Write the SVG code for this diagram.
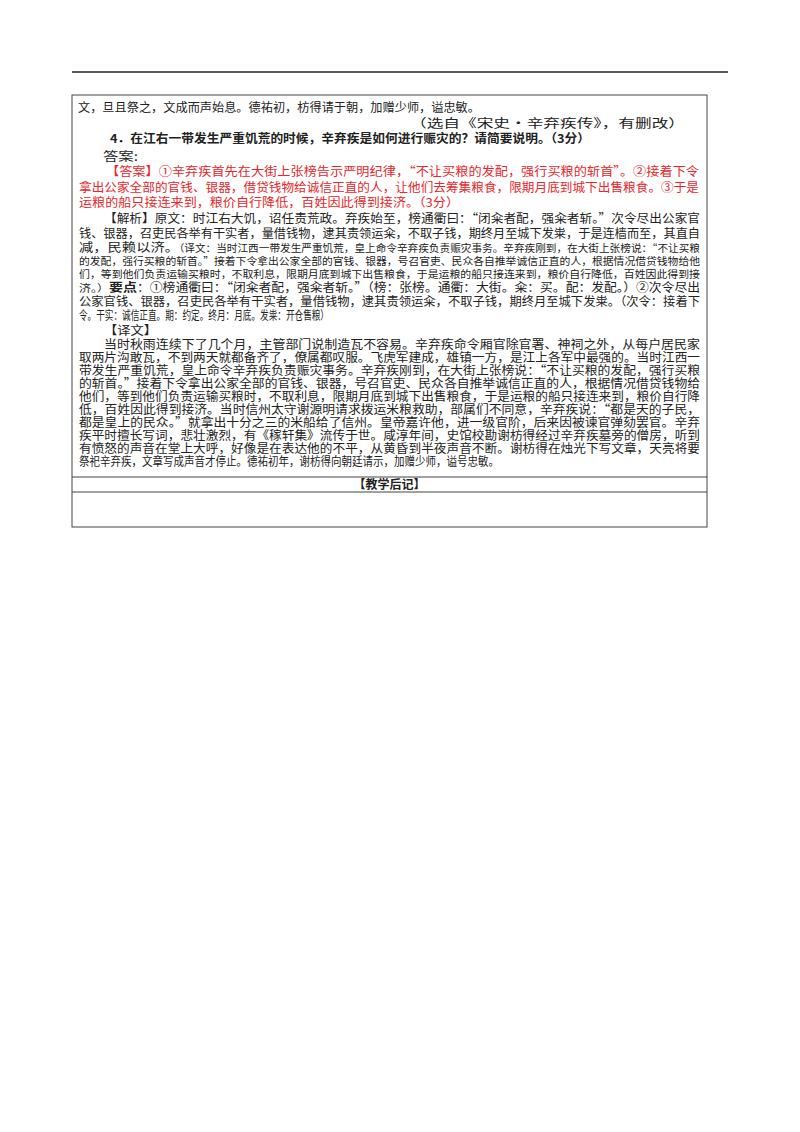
<svg xmlns="http://www.w3.org/2000/svg" width="800" height="1132" viewBox="0 0 800 1132">
<style>
text{font-family:"Noto Sans CJK SC",sans-serif;font-size:12px;fill:#222}
.r{fill:#e8262b}
.s{font-size:10px}
.b{font-weight:bold}
</style>
<rect width="800" height="1132" fill="#fff"/>
<line x1="72" y1="72" x2="728" y2="72" stroke="#222" stroke-width="1.5"/>
<g id="box" fill="none" stroke="#444">
<rect x="72" y="95" width="635" height="432"/>
<line x1="72" y1="477" x2="707" y2="477"/>
<line x1="72" y1="492" x2="707" y2="492"/>
</g>
<g id="text">
<text x="78" y="112" textLength="402" lengthAdjust="spacingAndGlyphs">文，旦且祭之，文成而声始息。德祐初，枋得请于朝，加赠少师，谥忠敏。</text>
<text x="410" y="128" textLength="275" lengthAdjust="spacingAndGlyphs">（选自《宋史·辛弃疾传》，有删改）</text>
<text x="110" y="143" class="b" textLength="480" lengthAdjust="spacingAndGlyphs">4．在江右一带发生严重饥荒的时候，辛弃疾是如何进行赈灾的？请简要说明。（3分）</text>
<text x="103" y="161" textLength="35" lengthAdjust="spacingAndGlyphs">答案:</text>
<text x="106" y="176" class="r" textLength="593" lengthAdjust="spacingAndGlyphs">【答案】①辛弃疾首先在大街上张榜告示严明纪律，“不让买粮的发配，强行买粮的斩首”。②接着下令</text>
<text x="79" y="192" class="r" textLength="620" lengthAdjust="spacingAndGlyphs">拿出公家全部的官钱、银器，借贷钱物给诚信正直的人，让他们去筹集粮食，限期月底到城下出售粮食。③于是</text>
<text x="79" y="207" class="r" textLength="380" lengthAdjust="spacingAndGlyphs">运粮的船只接连来到，粮价自行降低，百姓因此得到接济。（3分）</text>
<text x="104" y="223" textLength="596" lengthAdjust="spacingAndGlyphs">【解析】原文：时江右大饥，诏任责荒政。弃疾始至，榜通衢曰：“闭籴者配，强籴者斩。”次令尽出公家官</text>
<text x="79" y="238" textLength="621" lengthAdjust="spacingAndGlyphs">钱、银器，召吏民各举有干实者，量借钱物，逮其责领运籴，不取子钱，期终月至城下发粜，于是连樯而至，其直自</text>
<text x="79" y="252"><tspan textLength="100" lengthAdjust="spacingAndGlyphs">减，民赖以济。</tspan><tspan class="s" textLength="521" lengthAdjust="spacingAndGlyphs">（译文：当时江西一带发生严重饥荒，皇上命令辛弃疾负责赈灾事务。辛弃疾刚到，在大街上张榜说：“不让买粮</tspan></text>
<text x="79" y="265" class="s" textLength="621" lengthAdjust="spacingAndGlyphs">的发配，强行买粮的斩首。”接着下令拿出公家全部的官钱、银器，号召官吏、民众各自推举诚信正直的人，根据情况借贷钱物给他</text>
<text x="79" y="278" class="s" textLength="621" lengthAdjust="spacingAndGlyphs">们，等到他们负责运输买粮时，不取利息，限期月底到城下出售粮食，于是运粮的船只接连来到，粮价自行降低，百姓因此得到接</text>
<text x="79" y="292"><tspan class="s" textLength="30" lengthAdjust="spacingAndGlyphs">济。）</tspan><tspan class="b" textLength="28" lengthAdjust="spacingAndGlyphs">要点</tspan><tspan textLength="563" lengthAdjust="spacingAndGlyphs">：①榜通衢曰：“闭籴者配，强籴者斩。”（榜：张榜。通衢：大街。籴：买。配：发配。）②次令尽出</tspan></text>
<text x="79" y="306" textLength="621" lengthAdjust="spacingAndGlyphs">公家官钱、银器，召吏民各举有干实者，量借钱物，逮其责领运籴，不取子钱，期终月至城下发粜。（次令：接着下</text>
<text x="79" y="320" textLength="250" lengthAdjust="spacingAndGlyphs">令。干实：诚信正直。期：约定。终月：月底。发粜：开仓售粮）</text>
<text x="104" y="335" textLength="53" lengthAdjust="spacingAndGlyphs">【译文】</text>
<text x="104" y="349" textLength="596" lengthAdjust="spacingAndGlyphs">当时秋雨连续下了几个月，主管部门说制造瓦不容易。辛弃疾命令厢官除官署、神祠之外，从每户居民家</text>
<text x="79" y="362" textLength="621" lengthAdjust="spacingAndGlyphs">取两片沟敢瓦，不到两天就都备齐了，僚属都叹服。飞虎军建成，雄镇一方，是江上各军中最强的。当时江西一</text>
<text x="79" y="375" textLength="621" lengthAdjust="spacingAndGlyphs">带发生严重饥荒，皇上命令辛弃疾负责赈灾事务。辛弃疾刚到，在大街上张榜说：“不让买粮的发配，强行买粮</text>
<text x="79" y="388" textLength="621" lengthAdjust="spacingAndGlyphs">的斩首。”接着下令拿出公家全部的官钱、银器，号召官吏、民众各自推举诚信正直的人，根据情况借贷钱物给</text>
<text x="79" y="401" textLength="621" lengthAdjust="spacingAndGlyphs">他们，等到他们负责运输买粮时，不取利息，限期月底到城下出售粮食，于是运粮的船只接连来到，粮价自行降</text>
<text x="79" y="414" textLength="621" lengthAdjust="spacingAndGlyphs">低，百姓因此得到接济。当时信州太守谢源明请求拨运米粮救助，部属们不同意，辛弃疾说：“都是天的子民，</text>
<text x="79" y="427" textLength="621" lengthAdjust="spacingAndGlyphs">都是皇上的民众。”就拿出十分之三的米船给了信州。皇帝嘉许他，进一级官阶，后来因被谏官弹劾罢官。辛弃</text>
<text x="79" y="440" textLength="621" lengthAdjust="spacingAndGlyphs">疾平时擅长写词，悲壮激烈，有《稼轩集》流传于世。咸淳年间，史馆校勘谢枋得经过辛弃疾墓旁的僧房，听到</text>
<text x="79" y="453" textLength="621" lengthAdjust="spacingAndGlyphs">有愤怒的声音在堂上大呼，好像是在表达他的不平，从黄昏到半夜声音不断。谢枋得在烛光下写文章，天亮将要</text>
<text x="79" y="466" textLength="420" lengthAdjust="spacingAndGlyphs">祭祀辛弃疾，文章写成声音才停止。德祐初年，谢枋得向朝廷请示，加赠少师，谥号忠敏。</text>
<text x="389.5" y="489" class="b" text-anchor="middle">【教学后记】</text>
</g>
</svg>
